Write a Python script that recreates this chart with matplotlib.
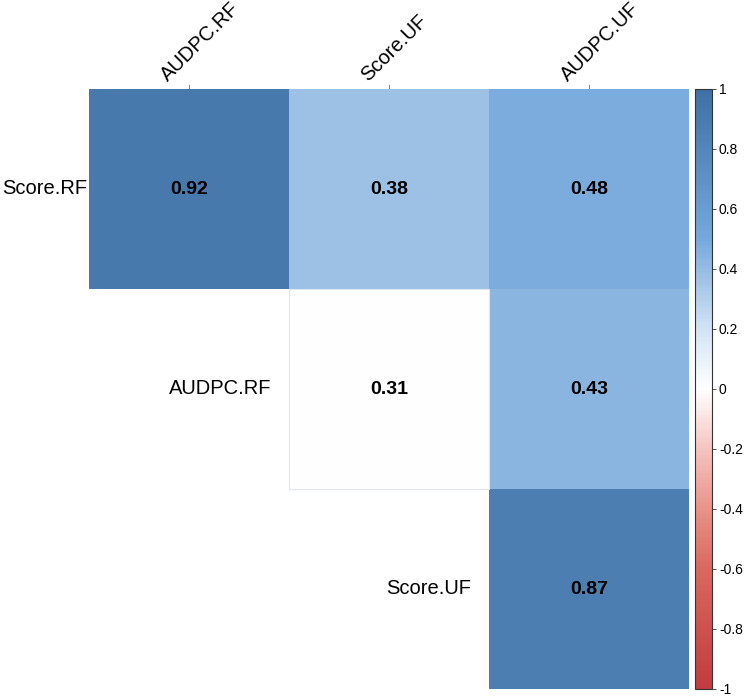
import numpy as np
import matplotlib
matplotlib.use("Agg")
import matplotlib.pyplot as plt
from matplotlib.colors import LinearSegmentedColormap, Normalize
from matplotlib.patches import Rectangle

plt.rcParams['font.family'] = ['Liberation Sans', 'DejaVu Sans']

row_labels = ["Score.RF", "AUDPC.RF", "Score.UF"]
col_labels = ["AUDPC.RF", "Score.UF", "AUDPC.UF"]
r_values = [[0.92, 0.38, 0.48],
            [np.nan, 0.31, 0.43],
            [np.nan, np.nan, 0.87]]
significant = [[True, True, True],
               [False, False, True],
               [False, False, True]]
cbar_ticks = [-1, -0.8, -0.6, -0.4, -0.2, 0, 0.2, 0.4, 0.6, 0.8, 1]

R = np.array(r_values, dtype=float)
S = np.array(significant)
shown = np.where(S, R, 0.0)
shown = np.ma.masked_invalid(np.where(np.isnan(R), np.nan, shown))

cmap = LinearSegmentedColormap.from_list("corr", [
    (0.00, "#c23b40"),
    (0.20, "#d8695f"),
    (0.30, "#e8938a"),
    (0.40, "#f5c4bf"),
    (0.50, "#ffffff"),
    (0.60, "#d2e3f5"),
    (0.69, "#9dc0e5"),
    (0.75, "#76a8dc"),
    (1.00, "#3f70a3"),
])
norm = Normalize(-1, 1)

fig = plt.figure(figsize=(7.47, 7.0), dpi=100)
W, H = 747, 700
ax = fig.add_axes([89 / W, 1 - 689 / H, 600 / W, 600 / H])
n = len(row_labels)
mesh = ax.pcolormesh(np.arange(n + 1), np.arange(n + 1), shown, cmap=cmap, norm=norm)
ax.set_xlim(0, n)
ax.set_ylim(n, 0)
ax.axis("off")

for i in range(n):
    for j in range(n):
        if not np.isnan(R[i, j]):
            ax.text(j + 0.5, i + 0.5, f"{R[i, j]:.2f}", ha="center", va="center",
                    fontsize=14, fontweight="bold", color="black")
            if not S[i, j]:
                ax.add_patch(Rectangle((j, i), 1, 1, fill=False, edgecolor="#dfe6ee", lw=0.8))

# row labels: first on the left, others along the diagonal
for i, lab in enumerate(row_labels):
    first = np.where(~np.isnan(R[i]))[0][0]
    xpos = first - (0.01 if i == 0 else 0.09)
    ax.text(xpos, i + 0.5, lab, ha="right", va="center", fontsize=14.5, clip_on=False)

# column labels rotated
for j, lab in enumerate(col_labels):
    ax.plot([j + 0.5, j + 0.5], [-0.005, -0.02], color="#888888", lw=0.8, clip_on=False)
    ax.text(j + 0.41, -0.02, lab, rotation=45, rotation_mode="anchor",
            ha="left", va="bottom", fontsize=14.5, clip_on=False)

cax = fig.add_axes([695 / W, 1 - 689 / H, 17 / W, 600 / H])
cb = fig.colorbar(mesh, cax=cax, ticks=cbar_ticks)
cb.outline.set_linewidth(0.8)
cb.outline.set_edgecolor("#333333")
cax.tick_params(length=3, width=0.6, labelsize=10, color="#333333", pad=2)
cax.set_yticklabels([f"{t:g}" for t in cbar_ticks])

fig.savefig("out.png", dpi=100)
